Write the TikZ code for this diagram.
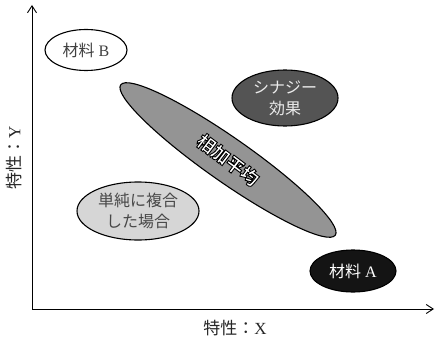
\documentclass[tikz,border=0pt]{standalone}
\usepackage{fontspec}
\setmainfont{Liberation Serif}
\newfontfamily\cjk{Noto Sans CJK JP}
\usetikzlibrary{shapes.geometric,arrows.meta}
\newcommand{\outlinetext}[1]{\special{pdf:code 2 Tr 0.9 w 0 G 1 g}#1\special{pdf:code 0 Tr}}
\begin{document}
\begin{tikzpicture}[x=1pt,y=-1pt,
  blob/.style={ellipse,draw=black,line width=1.1pt,inner sep=0pt,align=center},
  axis/.style={line width=0.9pt,-{Straight Barb[length=7pt,width=9pt,line width=0.9pt]}},
  lbl/.style={font=\fontsize{16}{22}\selectfont},
  axlbl/.style={font=\fontsize{17}{20}\selectfont,text=black!85}]
\useasboundingbox (0,0) rectangle (435,339);
% axes
\coordinate (O) at (32,309);
\coordinate (Ytop) at (32,5);
\coordinate (Xend) at (434,309);
\draw[axis] (O) -- (Ytop);
\draw[axis] (O) -- (Xend);
\node[axlbl] (xl) at (235,328) {{\cjk 特性：}X};
\node[axlbl,rotate=90] (yl) at (14,158) {{\cjk 特性：}Y};
% average ellipse
\node[blob,fill=black!42,minimum width=262pt,minimum height=44pt,rotate=-35] (avg) at (228,160) {};
\node[rotate=-37,font=\fontsize{18}{20}\selectfont\cjk\bfseries] (avgt) at (avg.center) {\outlinetext{相加平均}};
% material B
\node[blob,fill=white,minimum width=82pt,minimum height=41pt,text=black!75,lbl] (mb) at (86,50) {{\cjk 材料} B};
% synergy
\node[blob,fill=black!67,minimum width=106pt,minimum height=56pt,text=white!92!black,lbl] (syn) at (285,98) {{\cjk シナジー}\\[-1pt]{\cjk 効果}};
% simple composite
\node[blob,fill=black!16,minimum width=122pt,minimum height=58pt,text=black!72,lbl] (sc) at (138,211) {{\cjk 単純に複合}\\[-1pt]{\cjk した場合}};
% material A
\node[blob,fill=black!92,minimum width=86pt,minimum height=42pt,text=white,lbl] (ma) at (353,271) {{\cjk 材料} A};
\end{tikzpicture}
\end{document}
